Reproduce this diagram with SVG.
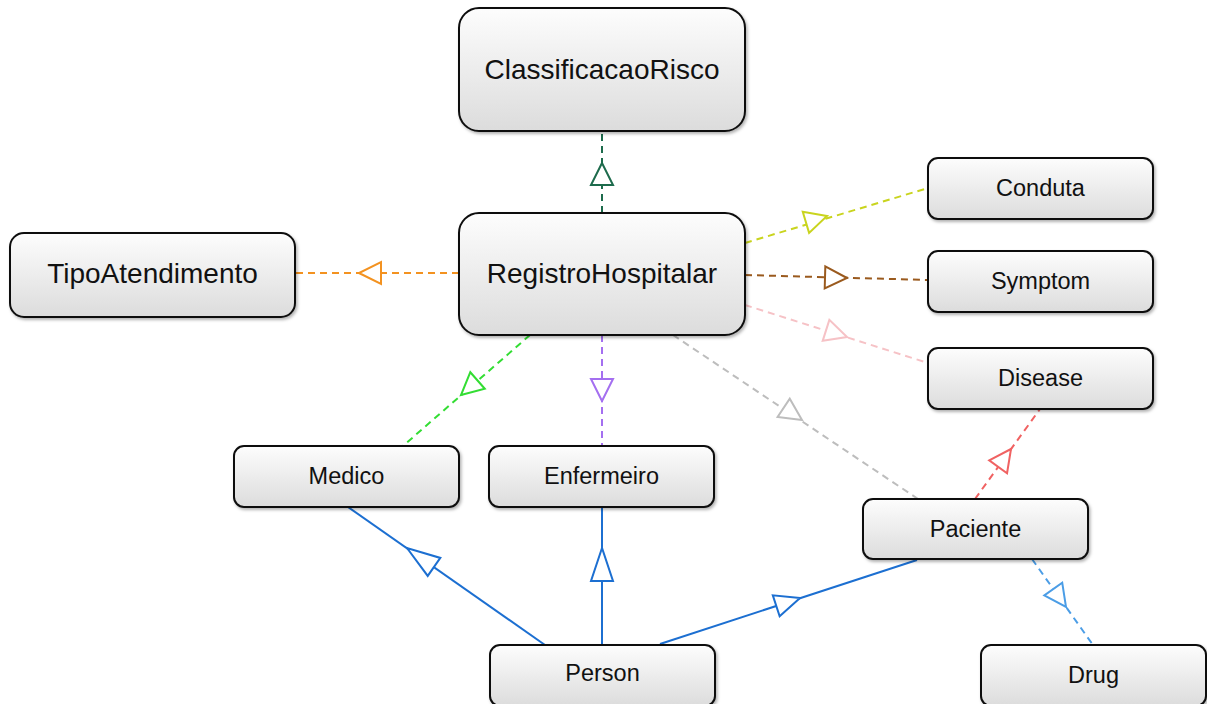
<svg xmlns="http://www.w3.org/2000/svg" xmlns:xlink="http://www.w3.org/1999/xlink" width="1207" height="704" viewBox="0 0 1207 704">
  <defs>
    <linearGradient id="boxFill" x1="0" y1="0" x2="0" y2="1">
      <stop offset="0" stop-color="#fdfdfd"/>
      <stop offset="1" stop-color="#dcdcdc"/>
    </linearGradient>
    <filter id="shadow" x="-10%" y="-10%" width="120%" height="130%">
      <feDropShadow dx="1.5" dy="2" stdDeviation="1.5" flood-color="#000" flood-opacity="0.3"/>
    </filter>
    <!-- open triangle heads, tip at origin, pointing along +x -->
    <path id="head" d="M0,0 L-22,-11 L-22,11 Z"/>
    <path id="headLong" d="M0,0 L-33,-11 L-33,11 Z"/>
    <path id="headMid" d="M0,0 L-25,-11 L-25,11 Z"/>
  </defs>
  <style>
    .node rect { fill: url(#boxFill); stroke: #111; stroke-width: 2; filter: url(#shadow); }
    .node text { font-family: "Liberation Sans", Arial, sans-serif; fill: #111; text-anchor: middle; }
    .big text { font-size: 28px; }
    .small text { font-size: 23.5px; }
    .edge { fill: none; stroke-width: 2; }
    .dash { stroke-dasharray: 7 5; }
    .tip { fill: #fff; stroke-width: 2; stroke-linejoin: miter; }
  </style>

  <g id="connectors">
    <!-- RegistroHospitalar realizes ClassificacaoRisco -->
    <line class="edge dash" x1="602" y1="213" x2="602" y2="131" stroke="#1d6b4c"/>
    <use class="tip" xlink:href="#head" stroke="#1d6b4c" transform="translate(602,163) rotate(-90)"/>
    <!-- RegistroHospitalar -> TipoAtendimento -->
    <line class="edge dash" x1="459" y1="273" x2="295" y2="273" stroke="#f39220"/>
    <use class="tip" xlink:href="#head" stroke="#f39220" transform="translate(359,273) rotate(180)"/>
    <!-- RegistroHospitalar -> Conduta -->
    <line class="edge dash" x1="745" y1="243" x2="928" y2="188" stroke="#c9d41e"/>
    <use class="tip" xlink:href="#head" stroke="#c9d41e" transform="translate(827,216) rotate(-16.7)"/>
    <!-- RegistroHospitalar -> Symptom -->
    <line class="edge dash" x1="745" y1="275" x2="928" y2="280" stroke="#9a5a1e"/>
    <use class="tip" xlink:href="#head" stroke="#9a5a1e" transform="translate(847,278) rotate(1.6)"/>
    <!-- RegistroHospitalar -> Disease -->
    <line class="edge dash" x1="745" y1="305" x2="928" y2="363" stroke="#f6c2c6"/>
    <use class="tip" xlink:href="#head" stroke="#f6c2c6" transform="translate(847,337) rotate(17.6)"/>
    <!-- RegistroHospitalar -> Paciente -->
    <line class="edge dash" x1="673" y1="335" x2="918" y2="499" stroke="#bdbdbd"/>
    <use class="tip" xlink:href="#head" stroke="#bdbdbd" transform="translate(802,420) rotate(33.6)"/>
    <!-- RegistroHospitalar -> Medico -->
    <line class="edge dash" x1="530" y1="335" x2="403" y2="446" stroke="#33dd33"/>
    <use class="tip" xlink:href="#head" stroke="#33dd33" transform="translate(461,395) rotate(138.8)"/>
    <!-- RegistroHospitalar -> Enfermeiro -->
    <line class="edge dash" x1="602" y1="335" x2="602" y2="446" stroke="#a46ff0"/>
    <use class="tip" xlink:href="#head" stroke="#a46ff0" transform="translate(602,401) rotate(90)"/>
    <!-- Paciente -> Disease -->
    <line class="edge dash" x1="975" y1="499" x2="1040" y2="409" stroke="#f06262"/>
    <use class="tip" xlink:href="#head" stroke="#f06262" transform="translate(1011,449) rotate(-54.2)"/>
    <!-- Paciente -> Drug -->
    <line class="edge dash" x1="1032" y1="559" x2="1093" y2="645" stroke="#4b9de6"/>
    <use class="tip" xlink:href="#head" stroke="#4b9de6" transform="translate(1066,607) rotate(54.6)"/>
    <!-- Person generalizations -->
    <line class="edge" x1="545" y1="645" x2="348" y2="507" stroke="#1c6fd1"/>
    <use class="tip" xlink:href="#headLong" stroke="#1c6fd1" transform="translate(407,548) rotate(215)"/>
    <line class="edge" x1="602" y1="645" x2="602" y2="507" stroke="#1c6fd1"/>
    <use class="tip" xlink:href="#headLong" stroke="#1c6fd1" transform="translate(602,548) rotate(-90)"/>
    <line class="edge" x1="660" y1="644" x2="917" y2="560" stroke="#1c6fd1"/>
    <use class="tip" xlink:href="#headMid" stroke="#1c6fd1" transform="translate(800,598) rotate(-18.1)"/>
  </g>

  <g id="ClassificacaoRisco" class="node big">
    <rect x="459" y="8" width="286" height="123" rx="20"/>
    <text x="602" y="79">ClassificacaoRisco</text>
  </g>
  <g id="RegistroHospitalar" class="node big">
    <rect x="459" y="213" width="286" height="122" rx="20"/>
    <text x="602" y="283">RegistroHospitalar</text>
  </g>
  <g id="TipoAtendimento" class="node big">
    <rect x="10" y="233" width="285" height="84" rx="14"/>
    <text x="152.5" y="283">TipoAtendimento</text>
  </g>
  <g id="Conduta" class="node small">
    <rect x="928" y="158" width="225" height="61" rx="10"/>
    <text x="1040.5" y="196">Conduta</text>
  </g>
  <g id="Symptom" class="node small">
    <rect x="928" y="251" width="225" height="61" rx="10"/>
    <text x="1040.5" y="289">Symptom</text>
  </g>
  <g id="Disease" class="node small">
    <rect x="928" y="348" width="225" height="61" rx="10"/>
    <text x="1040.5" y="386">Disease</text>
  </g>
  <g id="Medico" class="node small">
    <rect x="234" y="446" width="225" height="61" rx="10"/>
    <text x="346.5" y="484">Medico</text>
  </g>
  <g id="Enfermeiro" class="node small">
    <rect x="489" y="446" width="225" height="61" rx="10"/>
    <text x="601.5" y="484">Enfermeiro</text>
  </g>
  <g id="Paciente" class="node small">
    <rect x="863" y="499" width="225" height="60" rx="10"/>
    <text x="975.5" y="537">Paciente</text>
  </g>
  <g id="Person" class="node small">
    <rect x="490" y="645" width="225" height="61" rx="10"/>
    <text x="602.5" y="681">Person</text>
  </g>
  <g id="Drug" class="node small">
    <rect x="981" y="645" width="225" height="61" rx="10"/>
    <text x="1093.5" y="683">Drug</text>
  </g>
</svg>
